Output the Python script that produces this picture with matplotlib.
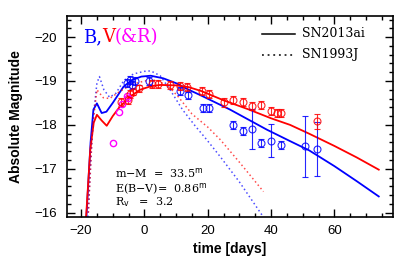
import numpy as np
import matplotlib.pyplot as plt
from matplotlib.ticker import MultipleLocator

# SN2013ai model curves (solid)
t_b13 = [-18.4, -17.0, -16.1, -15.0, -13.5, -12.0, -10.0, -6.6, -4.0, -1.0, 2.0,
         6.0, 10.0, 14.0, 17.6, 27.0, 38.7, 46.0, 52.0, 60.0, 67.0, 74.0]
m_b13 = [-15.8, -17.6, -18.35, -18.49, -18.27, -18.3, -18.5, -18.87, -19.02, -19.1, -19.12,
         -19.06, -18.95, -18.8, -18.68, -18.35, -17.89, -17.63, -17.42, -17.06, -16.72, -16.37]
t_v13 = [-18.5, -17.1, -16.0, -15.0, -13.5, -11.9, -10.0, -7.7, -4.0, -1.4, 2.0,
         5.0, 10.0, 14.0, 18.0, 25.0, 33.0, 40.0, 46.0, 52.0, 60.0, 67.0, 74.0]
m_v13 = [-15.8, -17.43, -18.05, -18.23, -18.1, -17.98, -18.2, -18.42, -18.67, -18.8, -18.88,
         -18.91, -18.9, -18.86, -18.77, -18.56, -18.35, -18.15, -18.0, -17.8, -17.52, -17.26, -16.98]

# SN1993J template curves (dotted)
t_b93 = [-17.8, -16.8, -16.1, -15.0, -14.2, -12.8, -11.0, -9.0, -6.6, -3.5, 0.0, 2.0,
         5.0, 8.1, 12.0, 16.0, 19.7, 23.9, 30.0, 37.1]
m_b93 = [-15.9, -17.4, -18.2, -18.95, -19.1, -18.8, -18.63, -18.72, -19.0, -19.16, -19.22, -19.23,
         -19.12, -18.8, -18.35, -17.98, -17.66, -17.28, -16.7, -15.95]
t_v93 = [-17.7, -16.8, -16.3, -15.0, -13.0, -11.0, -8.0, -4.0, 0.0, 4.0,
         8.0, 10.7, 15.0, 20.0, 24.0, 30.0, 37.6]
m_v93 = [-16.0, -17.3, -18.0, -18.8, -18.62, -18.6, -18.75, -18.92, -19.0, -19.02,
         -18.85, -18.64, -18.25, -17.95, -17.66, -17.15, -16.48]

# observed points
t_B = [-5.6, -4.5, -4.0, -2.9, 1.5, 11.3, 13.9, 18.4, 20.5, 28.1, 31.1, 33.9, 36.9, 40.0, 43.1, 50.8, 54.5]
m_B = [-18.95, -19.02, -18.91, -19.0, -19.0, -18.78, -18.67, -18.38, -18.38, -18.0, -17.87, -17.91,
       -17.58, -17.64, -17.55, -17.51, -17.45]
e_B = [0.09, 0.09, 0.09, 0.09, 0.09, 0.09, 0.09, 0.09, 0.09, 0.09, 0.09, 0.45,
       0.09, 0.38, 0.09, 0.7, 0.62]
t_V = [-7.5, -5.2, -4.5, -3.5, -1.6, 2.3, 4.4, 8.1, 11.3, 13.4, 18.1, 20.4, 25.0, 28.1, 31.1,
       33.9, 36.9, 39.9, 42.0, 43.1, 54.4]
m_V = [-18.53, -18.57, -18.7, -18.76, -18.83, -18.93, -18.93, -18.91, -18.89, -18.86, -18.77, -18.7,
       -18.51, -18.57, -18.53, -18.44, -18.45, -18.32, -18.27, -18.28, -18.08]
e_V = [0.09] * 12 + [0.1] + [0.09] * 7 + [0.17]
t_R = [-9.9, -7.9, -7.1, -5.6, -5.3]
m_R = [-17.58, -18.29, -18.48, -18.66, -18.62]

fig = plt.figure(figsize=(4.15, 2.67), dpi=100)
ax = fig.add_axes([0.161, 0.187, 0.786, 0.753])

ax.plot(t_b13, m_b13, color="blue", lw=1.3)
ax.plot(t_v13, m_v13, color="red", lw=1.3)
ax.plot(t_b93, m_b93, color="blue", lw=1.1, ls=(0, (1.0, 1.8)), alpha=0.7)
ax.plot(t_v93, m_v93, color="red", lw=1.1, ls=(0, (1.0, 1.8)), alpha=0.7)

ax.errorbar(t_B, m_B, yerr=e_B, fmt="o", mfc="none", mec="blue", ecolor="blue",
            ms=5, mew=0.8, elinewidth=0.8, capsize=2, alpha=0.85)
ax.errorbar(t_V, m_V, yerr=e_V, fmt="o", mfc="none", mec="red", ecolor="red",
            ms=5, mew=0.8, elinewidth=0.8, capsize=2, alpha=0.85)
ax.plot(t_R, m_R, "o", mfc="none", mec="magenta", ms=4.5, mew=1.0)

ax.set_xlim(-24.5, 78.5)
ax.set_ylim(-15.9, -20.48)
ax.xaxis.set_major_locator(MultipleLocator(20))
ax.xaxis.set_minor_locator(MultipleLocator(5))
ax.yaxis.set_major_locator(MultipleLocator(1))
ax.yaxis.set_minor_locator(MultipleLocator(0.2))
ax.tick_params(which="both", direction="in", top=True, right=True, width=1)
ax.tick_params(which="major", length=6, labelsize=9.5)
ax.tick_params(axis="x", which="major", pad=6)
ax.tick_params(axis="y", which="major", pad=7)
ax.tick_params(which="minor", length=3)
for s in ax.spines.values():
    s.set_linewidth(1.2)
for lab in ax.get_xticklabels() + ax.get_yticklabels():
    lab.set_family("Liberation Sans")

ax.set_xlabel("time [days]", fontsize=10, fontweight="bold", family="Liberation Sans", labelpad=3)
ax.set_ylabel("Absolute Magnitude", fontsize=10, fontweight="bold", family="Liberation Sans", labelpad=8)

# B,V(&R) label
tr = ax.transAxes
t1 = ax.text(0.049, 0.896, "B,", color="blue", fontsize=13, family="DejaVu Serif",
             transform=tr, va="center")
fig.canvas.draw()
bb = t1.get_window_extent().transformed(tr.inverted())
t2 = ax.text(bb.x1, 0.896, "V", color="red", fontsize=13, family="DejaVu Serif",
             transform=tr, va="center")
fig.canvas.draw()
bb = t2.get_window_extent().transformed(tr.inverted())
ax.text(bb.x1, 0.896, "(&R)", color="magenta", fontsize=13, family="DejaVu Serif",
        transform=tr, va="center")

# legend drawn by hand
ax.plot([0.598, 0.699], [0.910, 0.910], color="black", lw=1.1, transform=tr)
ax.plot([0.598, 0.699], [0.806, 0.806], color="black", lw=1.1, ls=(0, (1.2, 2.5)), transform=tr)
ax.text(0.721, 0.915, "SN2013ai", fontsize=9, family="DejaVu Serif", transform=tr, va="center")
ax.text(0.721, 0.811, "SN1993J", fontsize=9, family="DejaVu Serif", transform=tr, va="center")

ax.text(0.147, 0.219, r"m$-$M  =  33.5$^{\rm m}$", fontsize=8, family="DejaVu Serif",
        transform=tr, va="center")
ax.text(0.147, 0.144, r"E(B$-$V)=  0.86$^{\rm m}$", fontsize=8, family="DejaVu Serif",
        transform=tr, va="center")
ax.text(0.147, 0.075, r"R$_{\rm v}$   =  3.2", fontsize=8, family="DejaVu Serif",
        transform=tr, va="center")

fig.savefig("out.png", dpi=100)
